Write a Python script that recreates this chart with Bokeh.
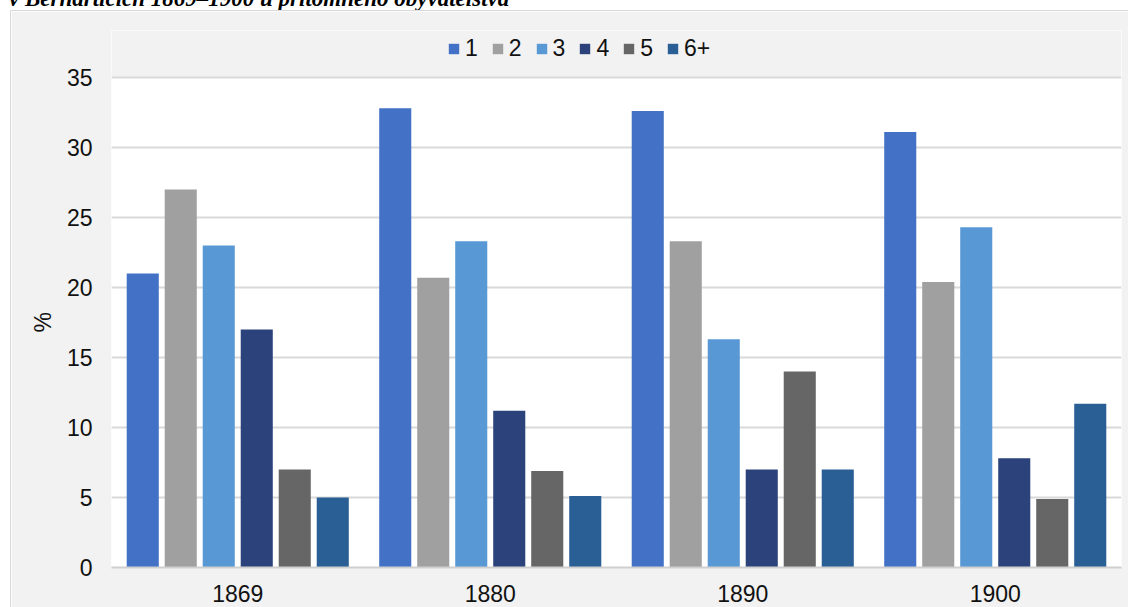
from bokeh.plotting import figure
from bokeh.models import (FactorRange, Range1d, Legend, Div, FixedTicker, BoxAnnotation, Title,
                          ColumnDataSource)
from bokeh.transform import dodge
from bokeh.layouts import column
from bokeh.embed import file_html
from bokeh.resources import INLINE

years = ["1869", "1880", "1890", "1900"]
series_names = ["1", "2", "3", "4", "5", "6+"]
s1 = [21.0, 32.8, 32.6, 31.1]
s2 = [27.0, 20.7, 23.3, 20.4]
s3 = [23.0, 23.3, 16.3, 24.3]
s4 = [17.0, 11.2, 7.0, 7.8]
s5 = [7.0, 6.9, 14.0, 4.9]
s6 = [5.0, 5.1, 7.0, 11.7]
y_ticks = [0, 5, 10, 15, 20, 25, 30, 35]
y_max = 35
title_text = "v Bernarticích 1869–1900 u přítomného obyvatelstva"
y_label = "%"

colors = ["#4371c5", "#a0a0a0", "#5898d4", "#2b437a", "#666666", "#2a5f96"]

source = ColumnDataSource(dict(year=years, s1=s1, s2=s2, s3=s3, s4=s4, s5=s5, s6=s6))
keys = ["s1", "s2", "s3", "s4", "s5", "s6"]

FONT = "Liberation Sans"
GRAY = "#f2f2f2"

# 14 px per unit; extra headroom above the top tick holds the legend (painted gray)
headroom = 47 / 14.0
p = figure(x_range=FactorRange(*years), y_range=Range1d(0, y_max + headroom),
           width=1117, height=596, output_backend="svg", toolbar_location=None,
           min_border_left=100, min_border_right=7, min_border_top=19, min_border_bottom=40,
           margin=(0, 0, 0, 11))
p.border_fill_color = GRAY
p.background_fill_color = "white"
p.outline_line_color = None
p.styles = {"outline": "1px solid #d9d9d9"}

# gray band above the top gridline, so that the plot area ends at 35
p.add_layout(BoxAnnotation(bottom=y_max, fill_color=GRAY, fill_alpha=1,
                           line_color=None, level="image"))

step = 0.1505
bw = 0.127
items = []
for i, (k, name, c) in enumerate(zip(keys, series_names, colors)):
    r = p.vbar(x=dodge("year", (i - 2.5) * step, range=p.x_range), top=k, width=bw,
               source=source, fill_color=c, line_color=None)
    items.append((name, [r]))

legend = Legend(items=items, orientation="horizontal", location=(336, 505))
legend.glyph_width = 13
legend.glyph_height = 13
legend.label_standoff = 5
legend.label_width = 8
legend.spacing = 13
legend.padding = 0
legend.margin = 0
legend.border_line_color = None
legend.background_fill_alpha = 0
legend.label_text_font = FONT
legend.label_text_font_size = "23px"
legend.label_text_color = "#111111"
p.add_layout(legend, "center")

p.ygrid.grid_line_color = "#d9d9d9"
p.ygrid.grid_line_width = 2
p.xgrid.grid_line_color = None

p.yaxis.ticker = FixedTicker(ticks=y_ticks)
p.yaxis.axis_line_color = None
p.yaxis.major_tick_line_color = None
p.yaxis.minor_tick_line_color = None
p.yaxis.major_tick_out = 0
p.yaxis.major_label_standoff = 19

ylab = Title(text=y_label, align="left", offset=235, standoff=16,
             text_font=FONT, text_font_size="23px", text_font_style="normal",
             text_color="#111111")
p.add_layout(ylab, "left")

p.xaxis.axis_line_color = "#cfcfcf"
p.xaxis.axis_line_width = 2
p.xaxis.major_tick_line_color = None
p.xaxis.major_tick_out = 0
p.xaxis.major_label_standoff = 17

for ax in (p.xaxis, p.yaxis):
    ax.major_label_text_font = FONT
    ax.major_label_text_font_size = "23px"
    ax.major_label_text_color = "#111111"

title = Div(text=title_text, width=760, height=25, margin=(-14, 0, 0, 9),
            styles={"font-family": "Liberation Serif", "font-weight": "bold",
                    "font-style": "italic", "font-size": "23px", "color": "#000000",
                    "line-height": "25px", "white-space": "nowrap", "text-align": "left"})

layout = column(title, p, spacing=0)

open("out.html", "w").write(file_html(layout, INLINE))
